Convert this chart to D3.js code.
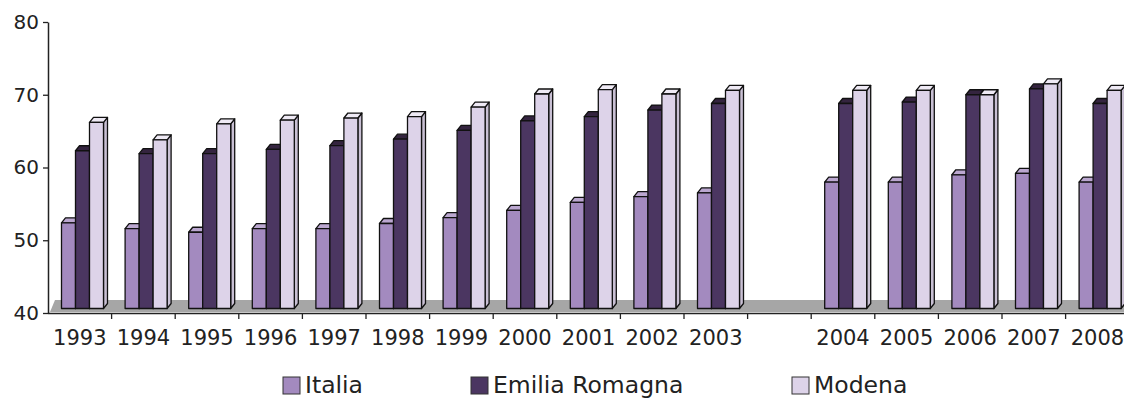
<!DOCTYPE html>
<html>
<head>
<meta charset="utf-8">
<script src="https://cdn.jsdelivr.net/npm/d3@7"></script>
<style>
  body { margin: 0; background: #fff; }
  text { font-family: "DejaVu Sans", Verdana, sans-serif; fill: #222; }
</style>
</head>
<body>
<div id="chart"></div>
<script>
const years = ["1993", "1994", "1995", "1996", "1997", "1998", "1999", "2000",
    "2001", "2002", "2003", "2004", "2005", "2006", "2007", "2008"]
const seriesNames = ["Italia", "Emilia Romagna", "Modena"]
const italia = [52.4, 51.6, 51.1, 51.6, 51.6, 52.3, 53.1, 54.1, 55.2, 56.0, 56.5, 58.0, 58.0, 59.0, 59.2, 58.0]
const emilia = [62.3, 61.9, 61.9, 62.5, 63.0, 63.9, 65.1, 66.4, 67.0, 67.9, 68.8, 68.8, 69.0, 70.0, 70.8, 68.8]
const modena = [66.2, 63.8, 66.0, 66.5, 66.8, 67.0, 68.3, 70.1, 70.7, 70.1, 70.6, 70.6, 70.6, 70.0, 71.5, 70.6]
const yTicks = [40, 50, 60, 70, 80]

const width = 1124
const height = 398

// empty slot between 2003 and 2004, as in the original
const slots = [...years.slice(0, 11), "gap", ...years.slice(11)]
const values = [italia, emilia, modena]

const colors = [
    { front: "#a38abf", top: "#bba7d0", side: "#8a73a4" },
    { front: "#4b3661", top: "#34243f", side: "#3a2a4c" },
    { front: "#ddd3e9", top: "#efeaf5", side: "#c9c0d4" }
]

const svg = d3.select("#chart").append("svg")
    .attr("width", width)
    .attr("height", height)

const y = d3.scaleLinear().domain([40, 80]).range([313, 22])
const x0 = d3.scaleBand().domain(slots).range([48, 48 + 17 * 63.6])
const x1 = d3.scaleBand().domain(seriesNames).range([13.5, 13.5 + 42])

const dx = 4, dy = 5
const base = 308.5

// floor
svg.append("path")
    .attr("d", `M50,312 L55,300 L${width},300 L${width},312 Z`)
    .attr("fill", "#a6a6a6")

// bars
const data = []
years.forEach((yr, i) => {
    seriesNames.forEach((s, k) => {
        data.push({ year: yr, k, value: values[k][i] })
    })
})

const bars = svg.append("g").selectAll("g")
    .data(data)
    .join("g")
    .attr("stroke", "#111")
    .attr("stroke-width", 1.3)
    .attr("stroke-linejoin", "round")

function left(d) { return x0(d.year) + x1(seriesNames[d.k]) }

bars.append("path")
    .attr("d", d => {
        const xl = left(d) + x1.bandwidth(), t = y(d.value)
        return `M${xl},${t} L${xl + dx},${t - dy} L${xl + dx},${base - dy} L${xl},${base} Z`
    })
    .attr("fill", d => colors[d.k].side)

bars.append("path")
    .attr("d", d => {
        const xl = left(d), w = x1.bandwidth(), t = y(d.value)
        return `M${xl},${t} L${xl + dx},${t - dy} L${xl + w + dx},${t - dy} L${xl + w},${t} Z`
    })
    .attr("fill", d => colors[d.k].top)

bars.append("rect")
    .attr("x", d => left(d))
    .attr("y", d => y(d.value))
    .attr("width", x1.bandwidth())
    .attr("height", d => base - y(d.value))
    .attr("fill", d => colors[d.k].front)

// y axis
const yAxis = svg.append("g")
    .attr("transform", "translate(48,0)")
    .call(d3.axisLeft(y).tickValues(yTicks).tickSize(5).tickSizeOuter(0).tickPadding(4))
yAxis.select(".domain").attr("stroke", "#222").attr("stroke-width", 1.5)
yAxis.selectAll(".tick line").attr("stroke", "#222").attr("stroke-width", 1.3)
yAxis.selectAll("text").attr("font-size", 20).attr("font-family", "DejaVu Sans")
    .attr("fill", "#222")

// x axis
svg.append("line")
    .attr("x1", 48).attr("x2", width)
    .attr("y1", 313.5).attr("y2", 313.5)
    .attr("stroke", "#222").attr("stroke-width", 1.5)

svg.append("g").selectAll("line")
    .data(slots.slice(1))
    .join("line")
    .attr("x1", d => x0(d)).attr("x2", d => x0(d))
    .attr("y1", 313).attr("y2", 319)
    .attr("stroke", "#222").attr("stroke-width", 1.3)

svg.append("g").selectAll("text")
    .data(years)
    .join("text")
    .attr("x", d => x0(d) + x0.bandwidth() / 2)
    .attr("y", 345)
    .attr("text-anchor", "middle")
    .attr("font-size", 21)
    .text(d => d)

// legend
const legendX = [283, 471, 792]
const legend = svg.append("g").selectAll("g")
    .data(seriesNames)
    .join("g")
    .attr("transform", (d, i) => `translate(${legendX[i]},377)`)

legend.append("rect")
    .attr("width", 17).attr("height", 17)
    .attr("fill", (d, i) => colors[i].front)
    .attr("stroke", "#333").attr("stroke-width", 1)

legend.append("text")
    .attr("x", 22).attr("y", 16)
    .attr("font-size", 23.5)
    .text(d => d)
</script>
</body>
</html>
